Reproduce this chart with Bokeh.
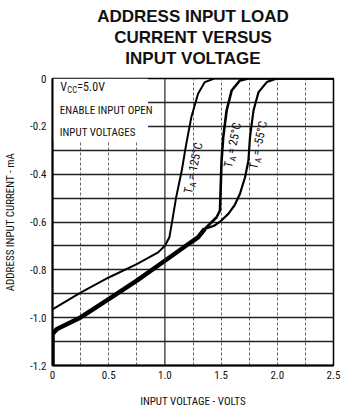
from bokeh.plotting import figure
from bokeh.models import FixedTicker, Title, Label, BoxAnnotation, Span
from bokeh.embed import file_html
from bokeh.resources import INLINE
import math

# ---------------- data ----------------
title_lines = ["ADDRESS INPUT LOAD", "CURRENT VERSUS", "INPUT VOLTAGE"]
x_label = "INPUT VOLTAGE - VOLTS"
y_label = "ADDRESS INPUT CURRENT - mA"

x_tick_values = [0, 0.5, 1.0, 1.5, 2.0, 2.5]
x_tick_labels = ["0", "0.5", "1.0", "1.5", "2.0", "2.5"]
y_tick_values = [0, -0.2, -0.4, -0.6, -0.8, -1.0, -1.2]
y_tick_labels = ["0", "-0.2", "-0.4", "-0.6", "-0.8", "-1.0", "-1.2"]
x_grid_values = [0.25, 0.5, 0.75, 1.25, 1.5, 1.75, 2.0, 2.25]
y_grid_values = [-0.1, -0.2, -0.3, -0.4, -0.5, -0.6, -0.7, -0.8, -0.9, -1.0, -1.1]

# T_A = 125 C
v_125 = [0, 0.25, 0.5, 0.75, 0.94, 1.0, 1.04, 1.07, 1.10, 1.15, 1.19, 1.235, 1.295, 1.355, 1.44, 2.5]
i_125 = [-0.965, -0.895, -0.832, -0.776, -0.727, -0.699, -0.664, -0.582, -0.497, -0.385, -0.273,
         -0.162, -0.064, -0.015, 0, 0]
# common branch of T_A = 25 C and -55 C
v_common = [0, 0, 0.04, 0.25, 0.5, 0.75, 1.0, 1.2, 1.295, 1.355]
i_common = [-1.2, -1.068, -1.047, -0.999, -0.922, -0.845, -0.762, -0.695, -0.664, -0.629]
# T_A = 25 C
v_25 = [1.355, 1.415, 1.46, 1.49, 1.504, 1.519, 1.549, 1.594, 1.668, 1.743, 2.5]
i_25 = [-0.629, -0.601, -0.58, -0.552, -0.343, -0.245, -0.134, -0.05, -0.008, 0, 0]
# T_A = -55 C
v_m55 = [1.355, 1.44, 1.50, 1.564, 1.62, 1.668, 1.713, 1.743, 1.757, 1.788, 1.833, 1.907, 1.996, 2.5]
i_m55 = [-0.629, -0.615, -0.595, -0.566, -0.53, -0.482, -0.413, -0.343, -0.245, -0.134, -0.057,
         -0.015, 0, 0]

curve_labels = [("= 125°C", 1.205, -0.48), ("= 25°C", 1.56, -0.372), ("= -55°C", 1.785, -0.378)]
cond_lines = ["ENABLE INPUT OPEN", "INPUT VOLTAGES"]

# ---------------- figure ----------------
NARROW = "'Liberation Sans Narrow', 'Roboto Condensed', 'DejaVu Sans Condensed', 'Liberation Sans', sans-serif"

W, H = 341, 413
p = figure(width=W, height=H, x_range=(0, 2.5), y_range=(-1.2, 0),
           output_backend="svg", toolbar_location=None,
           min_border_left=52, min_border_right=8, min_border_top=78, min_border_bottom=48)
p.title = None
p.background_fill_color = "white"
p.border_fill_color = "white"
p.outline_line_color = "black"
p.outline_line_width = 1.5

# title: spacer first (closest to the frame), then the lines bottom-up
p.add_layout(Title(text=" ", text_font_size="8px", standoff=0, offset=0), "above")
for t in reversed(title_lines):
    p.add_layout(Title(text=t, align="center", text_font="'Liberation Sans', Arial, sans-serif",
                       text_font_size="17px", text_font_style="bold", text_color="#111111",
                       standoff=0, offset=0), "above")

# grid
p.xgrid.ticker = FixedTicker(ticks=x_grid_values)
p.xgrid.grid_line_color = "#666666"
p.xgrid.grid_line_dash = "3 2"
p.xgrid.grid_line_width = 1
p.ygrid.ticker = FixedTicker(ticks=y_grid_values)
p.ygrid.grid_line_color = "#222222"
p.ygrid.grid_line_width = 1.3
p.add_layout(Span(location=1.0, dimension="height", line_color="#222222", line_width=1.2))

# axes
for ax, vals, labs in ((p.xaxis[0], x_tick_values, x_tick_labels), (p.yaxis[0], y_tick_values, y_tick_labels)):
    ax.ticker = FixedTicker(ticks=vals)
    ax.major_label_overrides = {v: l for v, l in zip(vals, labs)}
    ax.major_tick_line_color = None
    ax.minor_tick_line_color = None
    ax.major_tick_out = 0
    ax.major_tick_in = 0
    ax.minor_tick_out = 0
    ax.minor_tick_in = 0
    ax.axis_line_color = "black"
    ax.axis_line_width = 2
    ax.major_label_text_font = NARROW
    ax.major_label_text_font_size = "11px"
    ax.major_label_text_color = "#111111"
    ax.axis_label_text_font = NARROW
    ax.axis_label_text_font_size = "11px"
    ax.axis_label_text_font_style = "normal"
    ax.axis_label_text_color = "#111111"
p.xaxis.axis_label = x_label
p.yaxis.axis_label = y_label
p.xaxis.major_label_standoff = 5
p.xaxis.axis_label_standoff = 13
p.yaxis.major_label_standoff = 6
p.yaxis.axis_label_standoff = 10

# white box behind the condition text
p.add_layout(BoxAnnotation(left=0, right=0.85, top=0, bottom=-0.26, fill_color="white",
                           fill_alpha=1, line_color=None, level="underlay"))

# curves
p.line(v_common, i_common, line_color="black", line_width=4.5, line_join="round")
p.line(v_125, i_125, line_color="black", line_width=2, line_join="round")
p.line(v_25, i_25, line_color="black", line_width=2.6, line_join="round")
p.line(v_m55, i_m55, line_color="black", line_width=2.2, line_join="round")

# text annotations
px_x = 112.4  # px per volt (frame 281 px / 2.5 V)
px_y = 239.2  # px per mA (frame 287 px / 1.2 mA)

def lab(text, x, y, size, **kw):
    opts = dict(text_font=NARROW, text_font_size=size, text_color="#111111",
                text_baseline="middle", text_align="left")
    opts.update(kw)
    p.add_layout(Label(x=x, y=y, text=text, **opts))

lab("V", 0.07, -0.037, "12px")
lab("CC", 0.07 + 7 / px_x, -0.037 - 3 / px_y, "8.5px")
lab("=5.0V", 0.07 + 17 / px_x, -0.037, "12px")
for k, t in enumerate(cond_lines):
    lab(t, 0.065, -0.134 - 0.092 * k, "11px")

# rotated temperature labels
th = math.radians(78)
dx, dy = math.cos(th), math.sin(th)
nx, ny = math.sin(th), -math.cos(th)
for txt, x0, y0 in curve_labels:
    lab("T", x0, y0, "12px", angle=th)
    lab("A", x0 + (7 * dx + 3 * nx) / px_x, y0 + (7 * dy + 3 * ny) / px_y, "8.5px", angle=th)
    lab(txt, x0 + (14 * dx) / px_x, y0 + (14 * dy) / px_y, "12px", angle=th)

open("out.html", "w").write(file_html(p, INLINE))
